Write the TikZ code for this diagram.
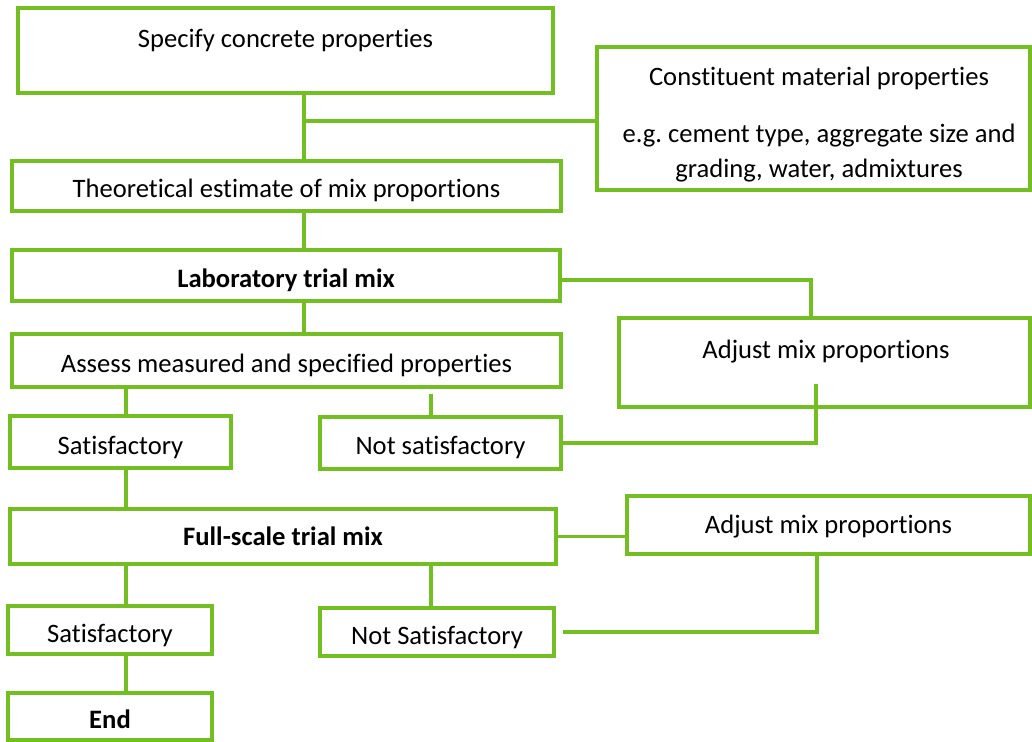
\documentclass[tikz,border=0pt]{standalone}
\usepackage{fontspec}
\setmainfont{Carlito}[Ligatures=NoCommon]
\usetikzlibrary{calc}
\definecolor{mixgreen}{RGB}{115,190,35}
\frenchspacing

\begin{document}
\begin{tikzpicture}[x=0.5pt,y=-0.5pt,
	every node/.style={font=\fontsize{13.3}{17.5}\selectfont,inner sep=0pt},
	box/.style 2 args={draw=mixgreen,line width=1.6pt,minimum width=#1*0.5pt,minimum height=#2*0.5pt,text height=12pt,text depth=0pt},
	link/.style={draw=mixgreen,line width=1.6pt}]

			\useasboundingbox (0,0) rectangle (1032,742);

			\node[box={535}{85}] (spec) at (285.5,50.5) {};
			\node (spec-t) at (285.5,41) {Specify concrete properties};
			\node[box={433}{143}] (mat) at (813.5,118.5) {};
			\node[align=center] (mat-t) at (819,125) {Constituent material properties\\[11pt]e.g. cement type, aggregate size and\\grading, water, admixtures};
			\node[box={549}{50}] (est) at (286.5,186) {Theoretical estimate of mix proportions};
			\node[box={548}{51}] (lab) at (286,275.5) {\textbf{Laboratory trial mix}};
			\node[box={411}{89}] (adj1) at (824.5,362.5) {};
			\node (adj1-t) at (826,352) {Adjust mix proportions};
			\node[box={549}{53}] (assess) at (286.5,360.5) {Assess measured and specified properties};
			\node[box={221}{52},text depth=-1.5pt] (sat1) at (120.5,442) {Satisfactory};
			\node[box={241}{52},text depth=-1.5pt] (not1) at (440.5,443) {Not satisfactory};
			\node[box={546}{55},text depth=3.5pt] (full) at (283,536.5) {\textbf{Full-scale trial mix}};
			\node[box={403}{58},text depth=3.5pt] (adj2) at (828.5,525) {Adjust mix proportions};
			\node[box={204}{48}] (sat2) at (110,630) {Satisfactory};
			\node[box={234}{48}] (not2) at (437,632) {Not Satisfactory};
			\node[box={204}{47}] (fin) at (110,716.5) {\textbf{End}};

			\coordinate (trunk) at (304,0);
			\coordinate (lft) at (126,0);
			\coordinate (mid) at (431,0);

			\draw[link] (trunk |- spec.south) -- (trunk |- est.north);
			\draw[link] ($(trunk |- mat.west)+(0,2.5)$) -- ($(mat.west)+(0,2.5)$);
			\draw[link] (trunk |- est.south) -- (trunk |- lab.north);
			\draw[link] (trunk |- lab.south) -- (trunk |- assess.north);
			\draw[link] ($(lab.east)+(0,4.5)$) -| ($(adj1.north)+(-13.5,0)$);
			\draw[link] (lft |- assess.south) -- (lft |- sat1.north);
			\draw[link] ($(mid |- assess.south)+(0,5)$) -- (mid |- not1.north);
			\draw[link] (not1.east) -| ($(adj1.south)+(-8.5,-25)$);
			\draw[link] (lft |- sat1.south) -- (lft |- full.north);
			\draw[link] (full.east) -- (full.east -| adj2.west);
			\draw[link] (lft |- full.south) -- (lft |- sat2.north);
			\draw[link] (mid |- full.south) -- (mid |- not2.north);
			\draw[link] ($(not2.east)+(7,0)$) -| ($(adj2.south)+(-11.5,0)$);
			\draw[link] (lft |- sat2.south) -- (lft |- fin.north);
		\end{tikzpicture}
\end{document}
